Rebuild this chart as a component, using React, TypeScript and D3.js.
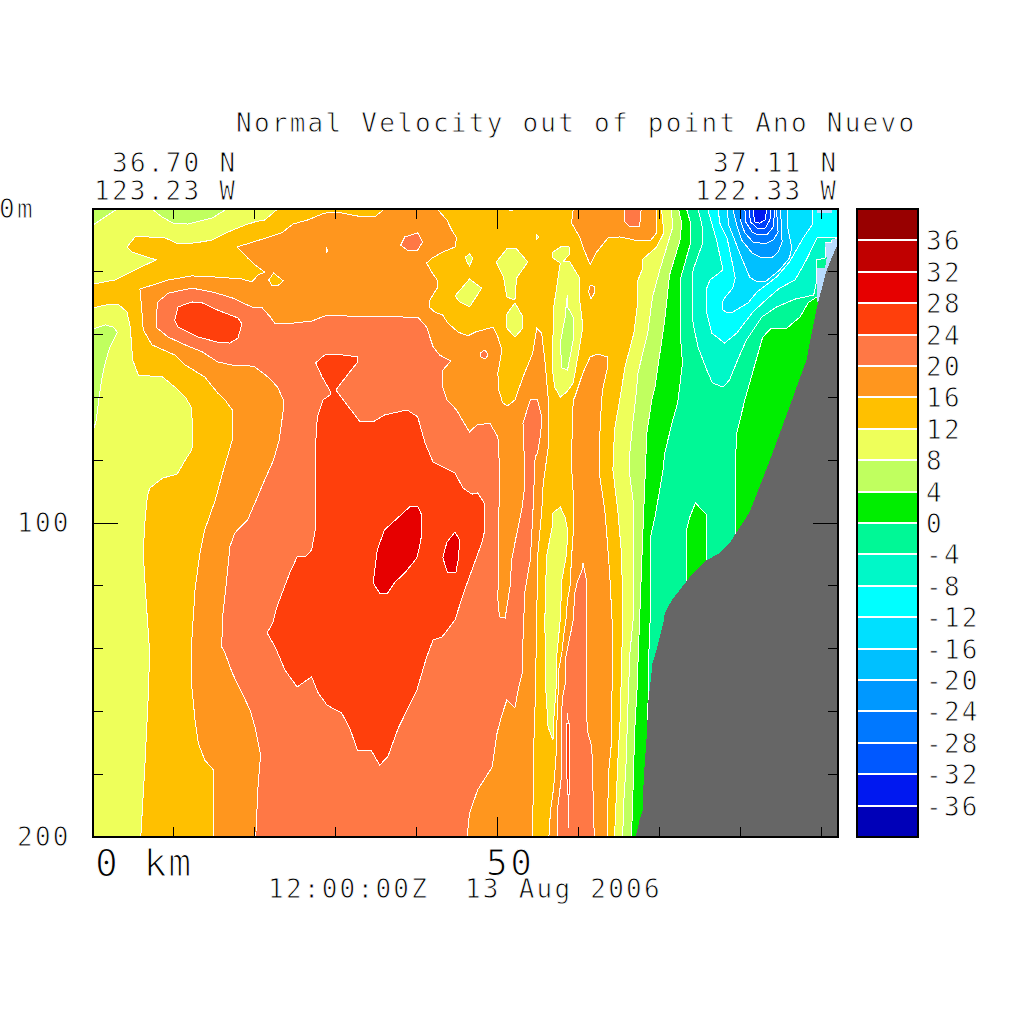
import React from "react";
import * as d3 from "d3";

type P = [number, number];

// Colour bar: contour levels (m/s scaled) and the fill of each band, top to bottom.
const levels = [36, 32, 28, 24, 20, 16, 12, 8, 4, 0, -4, -8, -12, -16, -20, -24, -28, -32, -36];
const bandColors = ["#980000", "#c00000", "#e60000", "#ff3f0c", "#ff7845", "#ff961e", "#ffc000", "#eeff5a", "#c0ff5f", "#00ee00", "#00f896", "#00f8c8", "#00ffff", "#00e0ff", "#00c0ff", "#0098ff", "#0078ff", "#0058ff", "#0018f0", "#0000b8"];
const colorLabels = ["36", "32", "28", "24", "20", "16", "12", "8", "4", "0", "-4", "-8", "-12", "-16", "-20", "-24", "-28", "-32", "-36"];

const xTicks = [10, 20, 30, 40, 50, 60, 70, 80, 90];
const yTicks = [20, 40, 60, 80, 100, 120, 140, 160, 180];

// Contours read from the section: [distance km, depth m]
const below12TopLeft: P[] = [[0,0],[22.8,0],[21.2,3.5],[20,4.1],[18.8,5.1],[16.7,7.3],[14.7,9.9],[12.6,10.8],[10.5,11.1],[8.9,9.2],[6.8,8.9],[5.2,8.9],[4.2,12.1],[4.8,13.7],[7.8,16.2],[5.2,19.4],[2.7,22.6],[0,23.9]];
const below12Left: P[] = [[0,31.5],[1.5,30.6],[3.1,30.3],[4.2,32.8],[4.6,37.6],[4.9,48.1],[5.6,52.9],[8.6,53.5],[10.1,56.7],[11.4,59.9],[12.2,63.4],[12.3,74.5],[12.2,76.8],[11.4,79.9],[10.4,84.4],[8.6,85.7],[7,88.9],[6.7,91.7],[6.4,100],[6.2,109.6],[6.5,122.3],[7,141.4],[6.8,156.4],[6.4,177.7],[5.9,200],[0,200]];
const below8A: P[] = [[0,0],[0,5.1],[1.5,2.5],[3,0]];
const below8B: P[] = [[7.3,0],[8.5,2.5],[9.9,4.5],[11.7,4.8],[14.7,2.9],[16.5,0]];
const below8C: P[] = [[0,38.2],[1.5,36.9],[2.5,37.6],[3,39.2],[2.1,43.9],[1.5,49],[1,55.4],[0.6,63.1],[0.4,67.2],[0,71]];

const above16Main: P[] = [[36,0],[42.5,0],[43.7,3.5],[44.3,6.7],[44.9,9.2],[44.7,12.1],[43.2,13.7],[41.9,15.6],[41.2,17.2],[41.9,20.4],[42.5,22.6],[42.5,25.2],[41.6,29],[41.5,31.2],[42.2,32.8],[43.2,33.8],[43.8,36.3],[45.1,39.2],[46.3,40.4],[47.2,39.2],[49.4,37.6],[50,40.8],[50.5,44.9],[50,52.2],[50.1,57.6],[50.6,61.8],[51.2,62.7],[52.1,60.8],[53.1,53.5],[54.3,45.9],[54.8,37.9],[55.4,39.5],[55.8,48.1],[56.2,59.9],[56.3,74.5],[55.6,87.3],[55.4,96.8],[54.9,110.8],[54.8,130.9],[54.6,157.3],[54.4,173.2],[54.3,200],[14.9,200],[14.9,178.7],[13.8,175.5],[13,170.1],[12.6,162.7],[12.2,152.2],[12.2,137.3],[12.6,121.3],[13.2,109.6],[13.8,102.2],[15.1,92.7],[16,84.1],[17.2,73.6],[17.2,64],[16.3,60.8],[15.4,58.6],[13.8,53.5],[11.4,49.7],[10.1,46.5],[7.3,43.3],[6.2,38.5],[6,31.2],[5.8,25.5],[9.3,22.6],[12.2,21.3],[15.4,21.7],[18.4,22.3],[19.6,23.2],[20.4,21],[21.2,20.1],[20,17.8],[19.1,15.6],[17.8,12.1],[19.4,10.8],[20.9,9.6],[23.3,7.6],[24.7,4.8],[26.5,3.5],[28.6,1.3],[30.2,1],[33.2,2.5],[34.8,2.5]];
const above16TopRight: P[] = [[59.3,0],[59.1,4.5],[60.1,8.9],[60.5,12.1],[61.4,17.8],[62.2,13.7],[63.6,9.2],[65.1,8.9],[66.9,9.9],[68.8,10.2],[69.6,7.6],[69.6,0]];
const above16Strip: P[] = [[61.4,47.1],[62.3,46.2],[63.5,47.1],[63.6,49.7],[63,56.7],[62.8,60.8],[62.6,71.3],[62.6,85.4],[63.2,95.9],[63.5,105.4],[63.8,115.9],[64.1,130.9],[64.1,152.2],[64,170.7],[63.7,178.7],[63.6,187.3],[63.5,200],[56.3,200],[56.5,191.4],[56.8,186],[57,180.9],[57.2,173.2],[57.2,168.2],[57.4,157.3],[57.5,146.8],[57.9,141.4],[58.1,136.3],[58.4,130.9],[58.6,124.5],[58.9,120.4],[59.1,110.8],[59.3,103.2],[59.3,90.4],[59.1,82.2],[59.1,77.7],[59.3,60.8],[59.5,59.9],[60.5,52.2]];
const above16Small: P[] = [[61.4,24.2],[62,24.8],[61.9,26.8],[61.5,28.7],[61.2,26.4]];

const above20Main: P[] = [[20.1,200],[20.4,182.8],[20.7,173.9],[20,165],[19.4,159.6],[18.4,154.1],[17.2,147.8],[16.3,141.4],[15.9,139.5],[16,129.9],[16.5,118.2],[16.9,107.6],[17.5,103.2],[19.1,99],[20,93.6],[21.2,86.3],[22.3,79.9],[23,73.6],[23.5,64],[23.5,60.8],[22.8,56.7],[21.6,53.5],[20,50.3],[18.8,49.7],[17.2,49.7],[15.4,48.7],[13.5,45.5],[11.4,43.3],[9.3,40.8],[7.9,37.9],[7.8,34.4],[8,29.6],[9.3,26.8],[12.2,25.2],[14.7,26.4],[17.2,28.3],[19.6,31.2],[20.9,31.5],[21.9,34.4],[22.5,36.6],[24.9,36.3],[27,35.7],[28.6,34.1],[29.9,33.8],[33.2,34.4],[35.4,34.1],[38.3,34.4],[40.1,34.4],[41.2,37.6],[42,43.9],[42.8,46.5],[44.2,48.4],[43.2,51.3],[43.1,56.1],[43.7,60.8],[44.9,64],[45.6,67.2],[46.5,71],[47.4,68.8],[49,68.2],[50,72.6],[50.2,82.2],[50.1,103.2],[50,124.5],[50.2,129.9],[50.9,130.3],[51.1,126.8],[51.5,120.4],[51.7,111.8],[52.1,106.4],[53,94.9],[53.3,88.5],[53.3,82.2],[53.1,68.2],[54,60.8],[54.9,60.8],[55.4,66.2],[55.3,71.3],[54.9,77.7],[54.6,79],[54.3,98.1],[54,111.8],[53.3,122.3],[53.2,130.9],[53.1,137.3],[53,147.8],[52.5,153.2],[52.1,158.9],[51.1,156.4],[50.5,161.1],[49.9,166.9],[49.3,177.7],[47.5,185],[46.5,192.4],[46.2,200]];
const above20Strip: P[] = [[60.5,112.7],[61,118.8],[61,130.9],[60.9,141.4],[60.9,159.6],[61.1,166.6],[61.6,171.3],[61.7,180.9],[61.9,200],[57.3,200],[57.4,190.4],[57.8,181.8],[57.8,162.7],[58,155.4],[58.4,150],[58.4,142.7],[58.6,139.8],[59,135],[59.3,130.9],[59.5,122.3],[59.8,118.8],[60.4,115]];
const above20A: P[] = [[38,11.5],[38.5,8.9],[40.1,7.6],[40.7,10.5],[40.1,13.1],[38.8,13.1]];
const above20B: P[] = [[47.8,45.9],[48.4,44.9],[48.8,46.5],[48.4,47.8],[47.9,47.1]];
const above20C: P[] = [[65.6,0],[65.7,4.1],[66.3,5.7],[67.5,5.7],[67.7,0]];

const above24Upper: P[] = [[10.1,35.4],[10.5,31.2],[12.2,29.6],[13.5,29.9],[15.4,32.2],[17.9,34.7],[18.4,36.6],[17.9,41.1],[16.9,42.7],[15.4,42.4],[13,40.8],[10.5,37.6]];
const above24Main: P[] = [[27.5,49],[28.6,46.5],[29.9,46.2],[32.7,47.1],[32.6,49],[31.4,52.9],[30,57.6],[30.9,60.8],[33,67.8],[34.6,67.8],[36,65.6],[38.8,64],[40.1,66.2],[41,74.5],[42,80.6],[44.7,84.1],[45.7,88.9],[46.8,90.8],[47.5,90.4],[48.3,93.6],[48.3,103.2],[48,106.4],[45.9,121.3],[44.7,130.9],[43.1,136.3],[42,137.3],[41.2,142.7],[40,153.2],[37.7,165.3],[36.4,174.5],[35.4,177.1],[34.4,172.6],[32.7,172.6],[31.7,165.3],[30.7,160.5],[28.9,158],[27.8,154.1],[27,149],[25.2,152.2],[23.7,146.8],[22.5,139.5],[21.5,135],[22.2,131.8],[22.7,126.8],[23.5,121.3],[24.3,115.9],[25.2,110.8],[26.2,110.8],[27,108.6],[27.5,101.3],[27.5,74.5],[27.7,66.2],[28.4,60.8],[29.3,59.2],[29.3,58],[28.3,53.5]];
const above24Sliver: P[] = [[58.5,164],[58.9,164],[58.9,178.7],[58.8,186.6],[58.6,186.6],[58.5,178.7]];
const above20Thread1: P[] = [[58.6,160.5],[58.7,164],[58.6,160.5]];
const above20Thread2: P[] = [[58.7,186.6],[58.7,197.2],[58.7,186.6]];

const above28A: P[] = [[34.6,119.1],[35.1,108.6],[36,102.2],[39.1,94.9],[40.1,94.6],[40.6,97.5],[40.5,105.4],[40,111.1],[38.5,115.9],[37.3,118.8],[36.4,122.3],[35.4,122.3]];
const above28B: P[] = [[43.2,111.1],[43.7,106.1],[44.7,102.9],[45.3,105.4],[45.1,111.8],[44.8,115.9],[43.8,115.9]];

const below16Isle: P[] = [[21.7,22.6],[22.3,20.4],[23.5,22.9],[22.8,24.5],[22.1,24.5]];
const below16Speck: P[] = [[28.8,12.4],[29,13.1],[28.8,14]];

const below12Isles: P[][] = [
  [[46,15.3],[46.5,14.3],[46.9,15.6],[46.5,18.2],[46.2,16.9]],
  [[44.7,27.7],[46.5,22.3],[48,25.2],[46.5,31.2],[45.3,29.6]],
  [[49.8,16.9],[51.1,12.7],[52.3,12.7],[53.7,16.9],[52.3,22],[52.1,29],[51.1,28],[50.7,21.7]],
  [[52.1,29.9],[53.1,34.4],[53.1,37.9],[52.1,40.8],[51.1,37.9],[51,33.8]],
  [[56.8,13.7],[57.9,11.8],[58.8,12.1],[58.8,14.6],[58.1,16.6],[58.9,16.9],[60.1,22],[60.1,29],[60.5,37.6],[59.8,48.1],[59.3,55.4],[58.5,58.3],[57.7,59.9],[57,56.7],[56.7,50.3],[56.9,31.2],[57.7,17.2],[56.8,15.6]],
  [[51.1,0],[52.1,0],[51.6,0.6]],
  [[54.8,8.3],[55.1,8.9],[54.8,9.6]],
  [[57.7,94.9],[58.3,98.1],[58.6,102.2],[58.5,109.6],[57.9,118.2],[57.7,130.9],[57.3,141.4],[57.2,152.2],[56.9,162.7],[56.8,169.1],[56.2,165],[55.9,152.2],[55.8,130.9],[56,110.8],[56.7,101.3],[56.8,96.8]],
];
const below8Isle: P[] = [[58.6,27.4],[58.6,31.2],[59.3,34.4],[59.3,41.7],[58.6,51.3],[57.9,50.6],[57.7,42.7],[58.3,34.4],[58.5,29]];

const below12Right: P[] = [[70.2,0],[70.5,7.6],[69.6,12.1],[67.8,16.2],[67.9,18.8],[67.3,22.6],[67.3,29],[66.8,39.5],[65.7,50.3],[65.1,59.9],[64.4,70.4],[64.2,83.1],[64.8,95.9],[65.3,110.8],[65.4,130.9],[65.3,142.7],[65.1,162.7],[64.8,176.4],[64.7,182.8],[64.4,200],[92,200],[92,0]];
const below8Right: P[] = [[71.4,0],[71.6,5.7],[70,19.4],[69.1,28],[68.5,39.5],[67.3,52.2],[67,60.8],[66.7,67.2],[66.2,79.9],[66.2,83.1],[66.8,94.9],[66.7,114],[66.7,130.9],[66.3,141.4],[66,162.7],[65.8,178.7],[65.6,186],[65.4,200],[92,200],[92,0]];
const below4Right: P[] = [[72.3,0],[72.7,4.5],[72.5,9.9],[71.2,21],[70.6,35.4],[69.4,56.7],[69,60.8],[68.4,71.3],[68.1,90.4],[67.9,103.2],[67.5,130.9],[67.3,144.6],[67.2,152.2],[66.9,165.9],[66.7,184.1],[66.5,200],[92,200],[92,0]];
const below0: P[] = [[73.3,0],[73.8,4.5],[73.8,10.8],[72.5,22.6],[72.5,39.5],[72.8,49],[72.2,61.8],[71.6,67.2],[70.6,77.7],[70.4,83.1],[69.4,98.1],[68.9,103.8],[68.8,130.9],[68.6,144.6],[68.5,165.9],[68.5,200],[79.3,200],[79.3,124.5],[79.3,103.8],[79.3,82.2],[79.5,71.3],[80.5,60.8],[82,47.1],[82.7,40.8],[83.8,37.9],[85.7,37.9],[87.3,34.4],[88.3,29.9],[89.4,28],[92,28],[92,0]];
const above0Isle: P[] = [[74.4,93.6],[75.8,97.5],[75.8,115],[73.3,121.3],[73.3,102.2],[73.7,98.1]];
const belowM4: P[] = [[74.7,0],[75.2,5.1],[75.3,10.8],[74.1,19.4],[74,28],[74.1,36.3],[74.7,43.9],[75.8,51.3],[76.5,55.4],[77.8,56.7],[78.6,54.5],[79.6,48.1],[80.7,41.7],[82.6,34.4],[84.4,31.2],[86.7,28.7],[89,27.4],[89.4,22.6],[89.4,16.2],[90.4,15.6],[90.4,10.8],[91.2,10.8],[91.2,9.9],[92,9.2],[92,0]];
const belowM8: P[] = [[75.9,0],[77,9.9],[77.8,19.4],[76.2,22.6],[75.7,25.8],[75.8,33.1],[76.4,39.5],[78,42.7],[79.5,39.5],[81.5,32.8],[83.2,28.7],[84.8,25.2],[86.7,22.6],[88.1,16.2],[89.4,9.2],[92,8.9],[92,0]];
const belowM12: P[] = [[77.2,0],[77.4,4.5],[78.3,9.2],[79,17.8],[79.3,22],[79,25.2],[78,28.3],[77.7,29.9],[77.8,32.2],[78.4,33.1],[79,32.8],[80.9,29.9],[82,26.4],[84.4,21.7],[86,16.9],[87.7,9.2],[88.8,5.1],[88.8,0]];
const belowM16: P[] = [[78.3,0],[78.5,5.1],[79,8.3],[80.1,15.6],[81.1,21.7],[82,23.2],[83,23.2],[84.8,19.4],[86,15.6],[86.3,12.4],[85.8,6.1],[85.8,0]];
const belowM20: P[] = [[79,0],[79.5,5.1],[80.1,9.9],[81.4,14],[82.6,15.6],[83.8,15.6],[84.6,13.7],[85.1,10.5],[84.9,0]];
const belowM24: P[] = [[79.9,0],[80,4.1],[80.5,7.6],[81.5,10.5],[83,11.1],[84,9.9],[84.6,7.3],[84.4,0]];
const belowM28: P[] = [[80.5,0],[80.6,4.1],[81.4,7.3],[82.1,8.3],[83.3,8],[84,5.7],[84.2,0]];
const belowM32: P[] = [[81,0],[81.2,4.1],[82,6.1],[83,6.1],[83.6,3.5],[83.7,0]];
const belowM36: P[] = [[81.5,0],[81.7,4.1],[82.3,4.5],[83,3.5],[83.2,0]];

const undefinedShelf: P[] = [[89.4,18.8],[90.4,18.8],[90.6,15.6],[90.4,10.8],[91.2,10.8],[91.2,9.6],[92,9.6],[92,11.5],[89.6,30.6],[89.4,29]];
const undefinedTop: P[] = [[89.4,0],[89.4,1.3],[91.2,1.3],[91.2,0]];
const seabed: P[] = [[67,200],[67.5,194.6],[67.9,191.4],[68,181.8],[68.4,166.9],[68.6,156.4],[69.1,144.6],[69.6,140.4],[70.2,134.1],[70.5,130.9],[70.6,128.7],[71.5,124.5],[73.7,117.2],[75.8,111.8],[77.4,109.6],[78.6,106.4],[79.9,101.3],[81.1,96.5],[83.6,79.9],[86,63.1],[88.1,48.1],[89.4,31.2],[90.6,19.4],[91.9,11.5],[92,9.9],[92,200]];

const innerRingColor = "#0040fa";

// fill of each contour, in painting order
const layers: [P[], string][] = [
  [below12TopLeft, bandColors[7]], [below12Left, bandColors[7]], [below8A, bandColors[8]], [below8B, bandColors[8]], [below8C, bandColors[8]],
  [above16Main, bandColors[5]], [above16TopRight, bandColors[5]], [above16Strip, bandColors[5]], [above16Small, bandColors[5]],
  [above20Main, bandColors[4]], [above20Strip, bandColors[4]], [above20A, bandColors[4]], [above20B, bandColors[4]], [above20C, bandColors[4]],
  [above24Upper, bandColors[3]], [above24Main, bandColors[3]], [above20Thread1, bandColors[4]], [above20Thread2, bandColors[4]], [above24Sliver, bandColors[3]],
  [above28A, bandColors[2]], [above28B, bandColors[2]],
  [below16Isle, bandColors[6]], [below16Speck, bandColors[6]],
  ...below12Isles.map((p): [P[], string] => [p, bandColors[7]]),
  [below8Isle, bandColors[8]],
  [below12Right, bandColors[7]], [below8Right, bandColors[8]], [below4Right, bandColors[9]], [below0, bandColors[10]], [above0Isle, bandColors[9]],
  [belowM4, bandColors[11]], [belowM8, bandColors[12]], [belowM12, bandColors[13]], [belowM16, bandColors[14]], [belowM20, bandColors[15]], [belowM24, bandColors[16]], [belowM28, bandColors[17]], [belowM32, innerRingColor], [belowM36, bandColors[18]],
];

const FONT = "'DejaVu Sans Mono', monospace";

function Label({ x, y, size = 26, spacing = 2.25, children }: { x: number; y: number; size?: number; spacing?: number; children: string }) {
  return (
    <text x={x} y={y} fontFamily={FONT} fontSize={size} letterSpacing={spacing} fill="#000" stroke="#fff" strokeWidth={size * 0.032} opacity={0.999} xmlSpace="preserve" style={{ whiteSpace: "pre" }}>
      {children}
    </text>
  );
}

export default function App() {
  const x = d3.scaleLinear().domain([0, 92]).range([93, 838]);
  const y = d3.scaleLinear().domain([0, 200]).range([209, 837]);
  const cbY = d3.scaleLinear().domain([40, -40]).range([209, 837]);
  const line = d3.line<P>().x((d) => x(d[0])).y((d) => y(d[1])).curve(d3.curveLinearClosed);
  const top = [40, ...levels, -40];

  return (
    <svg width={1024} height={1024} style={{ position: "absolute", left: 0, top: 0, background: "#fff" }} shapeRendering="crispEdges">
      <rect x={x(0)} y={y(0)} width={x(92) - x(0)} height={y(200) - y(0)} fill={bandColors[6]} />
      {layers.map(([pts, color], i) => (
        <path key={i} d={line(pts) ?? ""} fill={color} stroke="#fff" strokeWidth={1} />
      ))}
      <path d={line(undefinedShelf) ?? ""} fill="#b8dcff" />
      <path d={line(undefinedTop) ?? ""} fill="#b8dcff" />
      <path d={line(seabed) ?? ""} fill="#666666" />

      {xTicks.map((t) => {
        const len = t === 50 ? 20 : 10;
        return (
          <g key={t} stroke="#000" strokeWidth={1}>
            <line x1={x(t)} x2={x(t)} y1={y(0)} y2={y(0) + len} />
            <line x1={x(t)} x2={x(t)} y1={y(200)} y2={y(200) - len} />
          </g>
        );
      })}
      {yTicks.map((t) => {
        const len = t === 100 ? 25 : 10;
        return (
          <g key={t} stroke="#000" strokeWidth={1}>
            <line x1={x(0)} x2={x(0) + len} y1={y(t)} y2={y(t)} />
            <line x1={x(92)} x2={x(92) - len} y1={y(t)} y2={y(t)} />
          </g>
        );
      })}
      <rect x={x(0)} y={y(0)} width={x(92) - x(0)} height={y(200) - y(0)} fill="none" stroke="#000" strokeWidth={2} />

      {bandColors.map((c, i) => (
        <rect key={c} x={857} width={61} y={cbY(top[i])} height={cbY(top[i + 1]) - cbY(top[i])} fill={c} />
      ))}
      {levels.map((l) => (
        <line key={l} x1={857} x2={918} y1={cbY(l)} y2={cbY(l)} stroke="#fff" strokeWidth={2} />
      ))}
      <rect x={857} y={209} width={61} height={628} fill="none" stroke="#000" strokeWidth={2} />
      {levels.map((l, i) => (
        <Label key={l} x={926} y={cbY(l) + 10}>{colorLabels[i]}</Label>
      ))}

      <Label x={236} y={132}>Normal Velocity out of point Ano Nuevo</Label>
      <Label x={112} y={172}>36.70 N</Label>
      <Label x={94} y={200}>123.23 W</Label>
      <Label x={713} y={172}>37.11 N</Label>
      <Label x={695} y={200}>122.33 W</Label>
      <Label x={-1} y={218}>0m</Label>
      <Label x={17} y={532}>100</Label>
      <Label x={17} y={846}>200</Label>
      <Label x={95} y={876} size={38} spacing={1.5}>0 km</Label>
      <Label x={486} y={875} size={36} spacing={2.5}>50</Label>
      <Label x={268} y={898}>12:00:00Z  13 Aug 2006</Label>
    </svg>
  );
}
